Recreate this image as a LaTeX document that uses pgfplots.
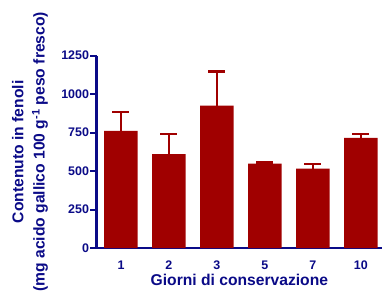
\documentclass[border=0pt]{standalone}
\usepackage{fontspec}
\setmainfont{Liberation Sans}
\usepackage{pgfplots}
\pgfplotsset{compat=1.18}
\definecolor{navy}{RGB}{10,10,135}
\definecolor{barred}{RGB}{160,0,0}
\begin{document}
\begin{tikzpicture}
\begin{axis}[
  at={(0,0)}, anchor=south west,
  scale only axis,
  width=285.3bp, height=192.3bp,
  xmin=-0.506, xmax=5.44,
  ymin=0, ymax=1250,
  enlargelimits=false,
  axis lines=left,
  axis line style={-, navy, line width=2.5bp},
  ytick={0,250,500,750,1000,1250},
  xtick=data,
  xticklabels={\textbf{1},\textbf{2},\textbf{3},\textbf{5},\textbf{7},\textbf{10}},
  x tick style={draw=none},
  y tick style={navy, line width=2bp},
  tick align=outside,
  major tick length=6.5bp,
  /pgf/number format/assume math mode=true,
  /pgf/number format/1000 sep={},
  ticklabel style={font=\fontsize{12.5}{14}\selectfont\bfseries, text=navy},
  yticklabel style={inner sep=1pt},
  xticklabel style={yshift=-3bp},
  xlabel={Giorni di conservazione},
  ylabel={Contenuto in fenoli\\(mg acido gallico 100 g\textsuperscript{-1} peso fresco)},
  every axis x label/.style={at={(axis description cs:0.5,-0.1664)}, anchor=center,
    font=\fontsize{15.7}{21.5}\selectfont\bfseries, text=navy},
  every axis y label/.style={at={(axis description cs:-0.2338,0.5)}, rotate=90, anchor=center, align=center,
    font=\fontsize{15.7}{21.5}\selectfont\bfseries, text=navy},
]
\addplot[ybar, bar width=33.5bp, fill=barred, draw=none,
  error bars/.cd, y dir=plus, y explicit,
  error bar style={line width=1.8bp, color=barred},
  error mark options={rotate=90, mark size=8.5bp, line width=2.5bp, color=barred}]
  coordinates {
  (0,762) +- (0,123)
  (1,610) +- (0,130)
  (2,926) +- (0,220)
  (3,549) +- (0,6)
  (4,516) +- (0,31)
  (5,716) +- (0,26)
  };
\end{axis}
\pgfresetboundingbox
\useasboundingbox (-96.7bp,-44bp) rectangle (285.3bp,248bp);
\end{tikzpicture}
\end{document}
